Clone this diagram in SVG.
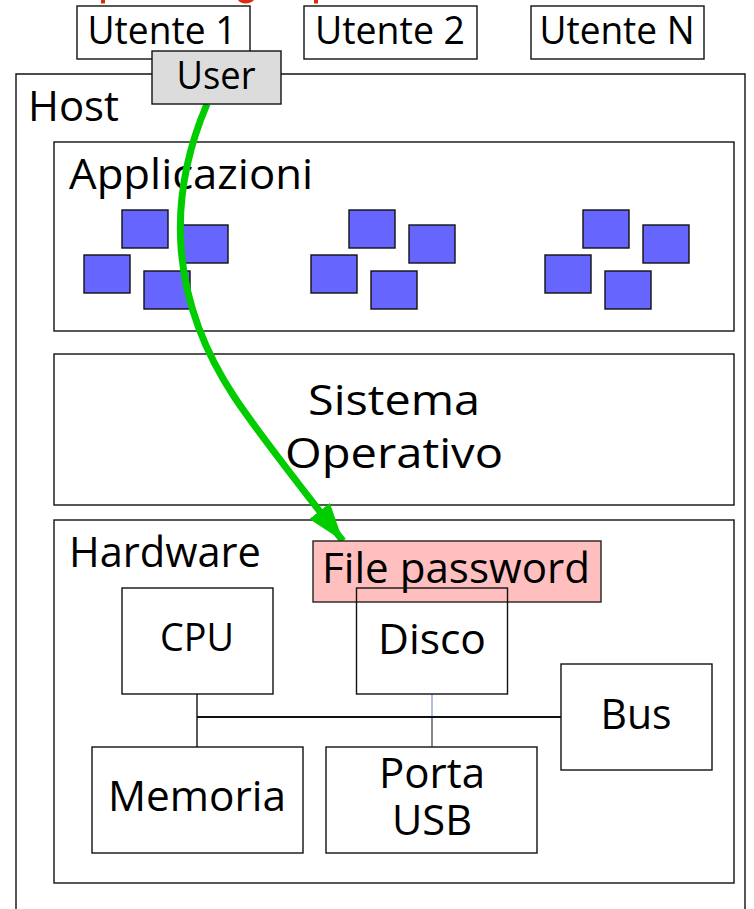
<svg xmlns="http://www.w3.org/2000/svg" width="754" height="909" viewBox="0 0 754 909">
<style>
text{font-family:"Open Sans","Noto Sans","Liberation Sans",sans-serif;fill:#000;text-anchor:middle}
.b{fill:#fff;stroke:#111;stroke-width:1.4}
.a{fill:#6666ff;stroke:#111;stroke-width:1.4}
.t{font-size:42px}
.s{font-size:38px}
.l{text-anchor:start}
.w{stroke:#111;stroke-width:1.4;fill:none}
</style>
<defs>
<marker id="ah" markerUnits="userSpaceOnUse" markerWidth="42" markerHeight="30" refX="38" refY="13" orient="auto"><path d="M0 0L38 13L0 26Z" fill="#00cc00"/></marker>
</defs>
<rect width="754" height="909" fill="#fff"/>
<g id="clipped-title" fill="#e02a10"><rect x="101" y="0" width="4" height="3.500"/><path d="M238 0C240 4 250 5 254 0Z"/><rect x="314" y="0" width="4" height="3.500"/></g>
<g id="host"><path class="b" d="M16 909V74H745V909"/><text class="t l" x="28" y="121" textLength="91" lengthAdjust="spacingAndGlyphs">Host</text></g>
<g id="utente1"><rect class="b" x="77" y="6" width="173" height="53"/><text class="s" x="162" y="44" textLength="149" lengthAdjust="spacingAndGlyphs">Utente 1</text></g>
<g id="utente2"><rect class="b" x="304" y="6" width="173" height="53"/><text class="s" x="390" y="44" textLength="150" lengthAdjust="spacingAndGlyphs">Utente 2</text></g>
<g id="utenten"><rect class="b" x="531" y="6" width="173" height="53"/><text class="s" x="617" y="44" textLength="155" lengthAdjust="spacingAndGlyphs">Utente N</text></g>
<g id="applicazioni"><rect class="b" x="54" y="142" width="680" height="189"/><text class="t l" x="69" y="189" textLength="244" lengthAdjust="spacingAndGlyphs">Applicazioni</text>
<rect class="a" x="122" y="210" width="46" height="38"/><rect class="a" x="182" y="225" width="46" height="38"/><rect class="a" x="84" y="255" width="46" height="38"/><rect class="a" x="144" y="271" width="46" height="38"/>
<rect class="a" x="349" y="210" width="46" height="38"/><rect class="a" x="409" y="225" width="46" height="38"/><rect class="a" x="311" y="255" width="46" height="38"/><rect class="a" x="371" y="271" width="46" height="38"/>
<rect class="a" x="583" y="210" width="46" height="38"/><rect class="a" x="643" y="225" width="46" height="38"/><rect class="a" x="545" y="255" width="46" height="38"/><rect class="a" x="605" y="271" width="46" height="38"/></g>
<g id="sistema"><rect class="b" x="54" y="354" width="680" height="151"/><text class="t" x="394" y="415" textLength="172" lengthAdjust="spacingAndGlyphs">Sistema</text><text class="t" x="394" y="468" textLength="218" lengthAdjust="spacingAndGlyphs">Operativo</text></g>
<g id="hardware"><rect class="b" x="54" y="520" width="680" height="363"/><text class="t l" x="69" y="567" textLength="192" lengthAdjust="spacingAndGlyphs">Hardware</text></g>
<g id="connectors">
<path class="w" d="M197 694V747"/>
<path d="M197 717H561" stroke="#111" stroke-width="2" fill="none"/>
<path d="M432 694V716" stroke="#88a4d8" stroke-width="1.4" fill="none"/>
<path d="M432 718V747" stroke="#555" stroke-width="1.4" fill="none"/>
<path d="M207 104C166 200 170 300 235 398C262 438 300 486 343 541" fill="none" stroke="#00cc00" stroke-width="7" marker-end="url(#ah)"/>
</g>
<g id="filepassword"><rect x="313" y="541" width="288" height="61" fill="#ffbfbf" stroke="#222" stroke-width="1.4"/><text class="t" x="456" y="583" textLength="268" lengthAdjust="spacingAndGlyphs">File password</text></g>
<g id="cpu"><rect class="b" x="122" y="588" width="151" height="106"/><text class="s" x="197" y="651" textLength="74" lengthAdjust="spacingAndGlyphs">CPU</text></g>
<g id="disco"><rect x="356.500" y="588" width="151" height="106" fill="none" stroke="#111" stroke-width="1.4"/><text class="t" x="432" y="654" textLength="108" lengthAdjust="spacingAndGlyphs">Disco</text></g>
<g id="bus"><rect class="b" x="561" y="664" width="151" height="106"/><text class="t" x="636" y="729" textLength="71" lengthAdjust="spacingAndGlyphs">Bus</text></g>
<g id="memoria"><rect class="b" x="92" y="747" width="211" height="106"/><text class="t" x="197" y="811" textLength="178" lengthAdjust="spacingAndGlyphs">Memoria</text></g>
<g id="porta"><rect class="b" x="326" y="747" width="211" height="106"/><text class="t" x="432" y="788" textLength="106" lengthAdjust="spacingAndGlyphs">Porta</text><text class="t" x="432" y="835" textLength="80" lengthAdjust="spacingAndGlyphs">USB</text></g>
<g id="user"><rect x="152" y="51" width="129" height="53" fill="#dcdcdc" stroke="#111" stroke-width="1.4"/><text class="s" x="216" y="89" textLength="79" lengthAdjust="spacingAndGlyphs">User</text></g>
</svg>
